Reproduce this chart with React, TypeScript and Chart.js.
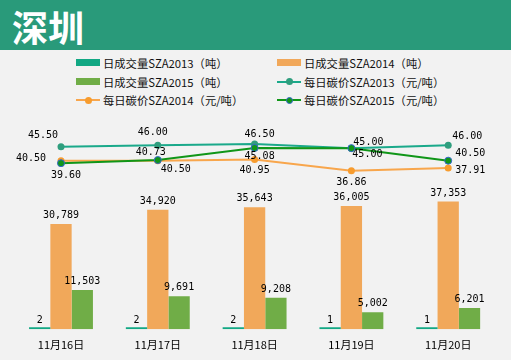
import React, { useEffect, useRef } from "react";
import { Chart, registerables } from "chart.js";

Chart.register(...registerables);

const categories = ["11月16日", "11月17日", "11月18日", "11月19日", "11月20日"];
const volume2013 = [2, 2, 2, 1, 1];
const volume2014 = [30789, 34920, 35643, 36005, 37353];
const volume2015 = [11503, 9691, 9208, 5002, 6201];
const price2013 = [45.5, 46.0, 46.5, 45.0, 46.0];
const price2014 = [40.5, 40.5, 40.95, 36.86, 37.91];
const price2015 = [39.6, 40.73, 45.08, 45.0, 40.5];

const seriesNames = [
  "日成交量SZA2013（吨）",
  "日成交量SZA2014（吨）",
  "日成交量SZA2015（吨）",
  "每日碳价SZA2013（元/吨）",
  "每日碳价SZA2014（元/吨）",
  "每日碳价SZA2015（元/吨）",
];

const C_TEAL = "#12A884";
const C_ORANGE = "#F1A85A";
const C_GREEN = "#70AD47";
const L_TEAL = "#1AA98A";
const P_TEAL = "#2F9E7E";
const L_ORANGE = "#F8A64C";
const P_ORANGE = "#F79C2E";
const L_GREEN = "#109618";
const P_GREEN_BORDER = "#3366CC";

// label offsets (dx, dy) for the line value labels
const lineLabelOffsets: Record<number, number[][]> = {
  3: [[-18, -11], [-5, -13], [5, -10], [17, -6], [19, -8.5]],
  4: [[-30, -2], [18, 9], [0, 11], [0, 12], [22, 3]],
  5: [[5, 12], [-7, -8], [5, 8], [16, 6], [22, -7]],
};

const labelPlugin = {
  id: "valueLabels",
  afterDatasetsDraw(chart: any) {
    const ctx = chart.ctx;
    ctx.save();
    ctx.font = '10px "DejaVu Sans Mono"';
    ctx.fillStyle = "#000";
    ctx.textAlign = "center";
    ctx.textBaseline = "middle";
    chart.data.datasets.forEach((ds: any, di: number) => {
      const meta = chart.getDatasetMeta(di);
      meta.data.forEach((el: any, i: number) => {
        const v = ds.data[i];
        if (ds.type === "line") {
          const off = lineLabelOffsets[di][i];
          ctx.fillText(v.toFixed(2), el.x + off[0], el.y + off[1]);
        } else {
          const top = Math.min(el.y, el.base);
          const y = di === 0 ? el.base - 9 : top - 8.5;
          ctx.fillText(v.toLocaleString("en-US"), el.x, y);
        }
      });
    });
    ctx.restore();
  },
};

function LegendItem({ x, y, label, kind, color, pointColor, pointBorder }: any) {
  return (
    <div style={{ position: "absolute", left: x, top: y - 9, height: 18, display: "flex", alignItems: "center", whiteSpace: "nowrap" }}>
      <div style={{ position: "relative", width: 24, height: 18, marginRight: 3 }}>
        {kind === "bar" ? (
          <div style={{ position: "absolute", left: 0, top: 5, width: 24, height: 7, background: color }} />
        ) : (
          <>
            <div style={{ position: "absolute", left: 0, top: 8, width: 24, height: 2, background: color }} />
            <div style={{ position: "absolute", left: 8.5, top: 5.5, width: 7, height: 7, borderRadius: "50%", background: pointColor, boxSizing: "border-box", border: pointBorder ? `1px solid ${pointBorder}` : "none" }} />
          </>
        )}
      </div>
      <span style={{ font: '11.3px "Noto Sans CJK SC"', color: "#111" }}>{label}</span>
    </div>
  );
}

export default function App() {
  const canvasRef = useRef<HTMLCanvasElement>(null);

  useEffect(() => {
    const chart = new Chart(canvasRef.current as HTMLCanvasElement, {
      type: "bar",
      data: {
        labels: categories,
        datasets: [
          { type: "bar", label: seriesNames[0], data: volume2013, backgroundColor: C_TEAL, yAxisID: "yBar", order: 10, minBarLength: 2, barPercentage: 1, categoryPercentage: 0.66 },
          { type: "bar", label: seriesNames[1], data: volume2014, backgroundColor: C_ORANGE, yAxisID: "yBar", order: 11, barPercentage: 1, categoryPercentage: 0.66 },
          { type: "bar", label: seriesNames[2], data: volume2015, backgroundColor: C_GREEN, yAxisID: "yBar", order: 12, barPercentage: 1, categoryPercentage: 0.66 },
          { type: "line", label: seriesNames[3], data: price2013, borderColor: L_TEAL, backgroundColor: P_TEAL, pointBackgroundColor: P_TEAL, pointBorderColor: P_TEAL, pointBorderWidth: 0, pointRadius: 3.5, borderWidth: 2, tension: 0, yAxisID: "yLine", order: 3 },
          { type: "line", label: seriesNames[4], data: price2014, borderColor: L_ORANGE, backgroundColor: P_ORANGE, pointBackgroundColor: P_ORANGE, pointBorderColor: P_ORANGE, pointBorderWidth: 0, pointRadius: 3.5, borderWidth: 2, tension: 0, yAxisID: "yLine", order: 2 },
          { type: "line", label: seriesNames[5], data: price2015, borderColor: L_GREEN, backgroundColor: L_GREEN, pointBackgroundColor: L_GREEN, pointBorderColor: P_GREEN_BORDER, pointBorderWidth: 1, pointRadius: 3.5, borderWidth: 2, tension: 0, yAxisID: "yLine", order: 1 },
        ] as any,
      },
      options: {
        animation: false,
        responsive: false,
        devicePixelRatio: 1,
        layout: { padding: { left: 12.6, right: 14.4, top: 134.2, bottom: 8.5 } },
        plugins: { legend: { display: false }, tooltip: { enabled: false } },
        scales: {
          x: {
            offset: true,
            grid: { display: false, drawTicks: false, tickLength: 0 },
            border: { display: false },
            ticks: { font: { family: '"Noto Sans CJK SC"', size: 11 }, color: "#000", padding: 9 },
          },
          yBar: { display: false, min: 0, max: 57000 },
          yLine: { display: false, min: -20, max: 50 },
        },
      } as any,
      plugins: [labelPlugin],
    });
    return () => chart.destroy();
  }, []);

  const legendItems = [
    { x: 76, y: 63, kind: "bar", color: C_TEAL },
    { x: 277, y: 63, kind: "bar", color: C_ORANGE },
    { x: 76, y: 81.5, kind: "bar", color: C_GREEN },
    { x: 277, y: 81.5, kind: "line", color: L_TEAL, pointColor: P_TEAL },
    { x: 76, y: 100, kind: "line", color: L_ORANGE, pointColor: P_ORANGE },
    { x: 277, y: 100, kind: "line", color: L_GREEN, pointColor: L_GREEN, pointBorder: P_GREEN_BORDER },
  ];

  return (
    <div style={{ position: "fixed", left: 0, top: 0, width: 511, height: 360, background: "#F2F2F2", overflow: "hidden" }}>
      <div style={{ position: "absolute", left: 0, top: 0, width: 511, height: 50, background: "#299A7A" }}>
        <span style={{ position: "absolute", left: 12, top: 0, height: 50, lineHeight: "52px", font: 'bold 36px "Noto Sans CJK SC"', color: "#fff" }}>深圳</span>
      </div>
      {legendItems.map((it, i) => (
        <LegendItem key={i} {...it} label={seriesNames[i]} />
      ))}
      <canvas ref={canvasRef} width={511} height={369} style={{ position: "absolute", left: 0, top: 0, width: 511, height: 369 }} />
    </div>
  );
}
